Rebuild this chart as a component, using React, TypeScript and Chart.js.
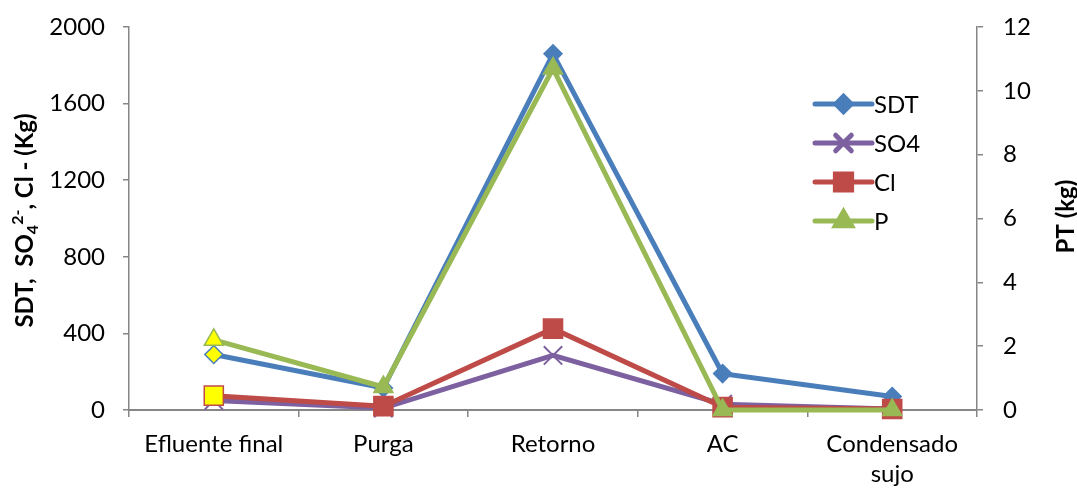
import React, { useEffect, useRef } from "react";
import { Chart, registerables } from "chart.js";
import { drawPoint } from "chart.js/helpers";

Chart.register(...registerables);

// Sampling points along the circuit
const categories: (string | string[])[] = [
  "Efluente final",
  "Purga",
  "Retorno",
  "AC",
  ["Condensado", "sujo"],
];

// Loads on the left axis (kg)
const sdtValues = [290, 115, 1860, 190, 70];
const so4Values = [50, 10, 285, 30, 5];
const clValues = [75, 20, 425, 15, 5];
// Total phosphorus on the right axis (kg)
const pValues = [2.2, 0.72, 10.7, 0, 0];

const seriesNames = ["SDT", "SO4", "Cl", "P"];
const leftTicks = [0, 400, 800, 1200, 1600, 2000];
const rightTicks = [0, 2, 4, 6, 8, 10, 12];

const FONT = "Lato, 'Open Sans', sans-serif";
const AXIS = "#868686";
const YELLOW = "#FFFF00";

const BLUE = "#4A7EBB";
const PURPLE = "#7D60A0";
const RED = "#BE4B48";
const GREEN = "#98B954";

type Style = {
  color: string;
  pointStyle: string;
  radius: number;
  pointBorderWidth: number;
};

const styles: Style[] = [
  { color: BLUE, pointStyle: "rectRot", radius: 9, pointBorderWidth: 1.5 },
  { color: PURPLE, pointStyle: "crossRot", radius: 13, pointBorderWidth: 2 },
  { color: RED, pointStyle: "rect", radius: 13.5, pointBorderWidth: 1.5 },
  { color: GREEN, pointStyle: "triangle", radius: 11, pointBorderWidth: 1.5 },
];

// first sample is highlighted with a yellow fill
const fills = (c: string, highlight: boolean) =>
  categories.map((_, i) => (highlight && i === 0 ? YELLOW : c));

const legendPlugin = {
  id: "seriesKey",
  afterDraw(chart: Chart) {
    const ctx = chart.ctx;
    const x1 = 815;
    const x2 = 872;
    const rows = [104, 143, 182, 221];
    ctx.save();
    seriesNames.forEach((name, i) => {
      const s = styles[i];
      const y = rows[i];
      ctx.strokeStyle = s.color;
      ctx.lineWidth = 5;
      ctx.lineCap = "round";
      ctx.beginPath();
      ctx.moveTo(x1, y);
      ctx.lineTo(x2, y);
      ctx.stroke();
      ctx.fillStyle = s.color;
      ctx.strokeStyle = s.color;
      drawPoint(
        ctx,
        {
          pointStyle: s.pointStyle as any,
          radius: s.radius * 0.85,
          rotation: 0,
          borderWidth: s.pointBorderWidth,
        },
        (x1 + x2) / 2,
        y
      );
      ctx.fillStyle = "#000";
      ctx.font = `24px ${FONT}`;
      ctx.textAlign = "left";
      ctx.textBaseline = "middle";
      ctx.fillText(name, 874, y + 1);
    });
    ctx.restore();
  },
};

const axisTitlePlugin = {
  id: "axisTitles",
  afterDraw(chart: Chart) {
    const ctx = chart.ctx;
    const area = chart.chartArea;
    const cy = (area.top + area.bottom) / 2 + 2;
    ctx.save();
    ctx.fillStyle = "#000";
    ctx.textBaseline = "alphabetic";
    ctx.textAlign = "left";

    // left title with sub/superscript
    const big = `bold 24px ${FONT}`;
    const small = `bold 16px ${FONT}`;
    const parts: { t: string; f: string; dy: number }[] = [
      { t: "SDT,  SO", f: big, dy: 0 },
      { t: "4", f: small, dy: 5 },
      { t: "2-", f: small, dy: -10 },
      { t: ", Cl - (Kg)", f: big, dy: 0 },
    ];
    let total = 0;
    const widths = parts.map((p) => {
      ctx.font = p.f;
      const w = ctx.measureText(p.t).width;
      total += w;
      return w;
    });
    ctx.save();
    ctx.translate(33, cy);
    ctx.rotate(-Math.PI / 2);
    let x = -total / 2;
    parts.forEach((p, i) => {
      ctx.font = p.f;
      ctx.fillText(p.t, x, p.dy);
      x += widths[i];
    });
    ctx.restore();

    // right title
    ctx.save();
    ctx.translate(1074, cy - 4);
    ctx.rotate(-Math.PI / 2);
    ctx.font = big;
    ctx.textAlign = "center";
    ctx.fillText("PT (kg)", 0, 0);
    ctx.restore();

    ctx.restore();
  },
};

export default function App() {
  const ref = useRef<HTMLCanvasElement>(null);

  useEffect(() => {
    let chart: Chart | null = null;
    let cancelled = false;

    const build = () => {
      if (cancelled || !ref.current) return;
      const seriesData = [sdtValues, so4Values, clValues, pValues];
      const datasets = seriesNames.map((name, i) => {
        const s = styles[i];
        const highlight = i !== 1;
        return {
          label: name,
          data: seriesData[i],
          yAxisID: i === 3 ? "yRight" : "yLeft",
          borderColor: s.color,
          backgroundColor: s.color,
          borderWidth: 5,
          pointStyle: s.pointStyle,
          pointRadius: s.radius,
          pointHoverRadius: s.radius,
          pointBorderWidth: s.pointBorderWidth,
          pointBorderColor: s.color,
          pointBackgroundColor: fills(s.color, highlight),
          tension: 0,
          clip: false,
          order: 3 - i,
        };
      });

      const fitVertical = (width: number) => (scale: any) => {
        scale.width = width;
        scale.paddingTop = 0;
        scale.paddingBottom = 0;
      };

      chart = new Chart(ref.current, {
        type: "line",
        data: { labels: categories, datasets: datasets as any },
        options: {
          responsive: false,
          animation: false,
          events: [],
          layout: { padding: { top: 27, left: 0, right: 0, bottom: 0 } },
          plugins: {
            legend: { display: false },
            tooltip: { enabled: false },
            title: { display: false },
          },
          scales: {
            x: {
              type: "category",
              offset: true,
              grid: {
                offset: true,
                drawOnChartArea: false,
                tickLength: 7,
                color: AXIS,
                lineWidth: 1.5,
              },
              border: { color: AXIS, width: 2 },
              ticks: {
                color: "#000",
                font: { family: FONT, size: 24, lineHeight: 1.25 },
                maxRotation: 0,
                autoSkip: false,
                padding: 12,
              },
              afterFit: (scale: any) => {
                scale.height = 78;
                scale.paddingLeft = 0;
                scale.paddingRight = 0;
              },
            },
            yLeft: {
              type: "linear",
              position: "left",
              min: leftTicks[0],
              max: leftTicks[leftTicks.length - 1],
              afterBuildTicks: (scale: any) => {
                scale.ticks = leftTicks.map((v) => ({ value: v }));
              },
              grid: {
                drawOnChartArea: false,
                tickLength: 6,
                color: AXIS,
                lineWidth: 1.5,
              },
              border: { color: AXIS, width: 1.5 },
              ticks: {
                color: "#000",
                font: { family: FONT, size: 24 },
                padding: 18,
                callback: (v: any) => String(v),
              },
              afterFit: fitVertical(129),
            },
            yRight: {
              type: "linear",
              position: "right",
              min: rightTicks[0],
              max: rightTicks[rightTicks.length - 1],
              afterBuildTicks: (scale: any) => {
                scale.ticks = rightTicks.map((v) => ({ value: v }));
              },
              grid: {
                drawOnChartArea: false,
                tickLength: 6,
                color: AXIS,
                lineWidth: 1.5,
              },
              border: { color: AXIS, width: 1.5 },
              ticks: {
                color: "#000",
                font: { family: FONT, size: 24 },
                padding: 20,
                callback: (v: any) => String(v),
              },
              afterFit: fitVertical(100),
            },
          },
        },
        plugins: [legendPlugin, axisTitlePlugin],
      });
    };

    Promise.all([
      document.fonts.load(`24px Lato`),
      document.fonts.load(`bold 24px Lato`),
    ])
      .then(build)
      .catch(build);

    return () => {
      cancelled = true;
      if (chart) chart.destroy();
    };
  }, []);

  return (
    <div
      style={{
        position: "fixed",
        left: 0,
        top: 0,
        width: 1077,
        height: 488,
        background: "#fff",
      }}
    >
      <canvas ref={ref} width={1077} height={488} style={{ display: "block" }} />
    </div>
  );
}
